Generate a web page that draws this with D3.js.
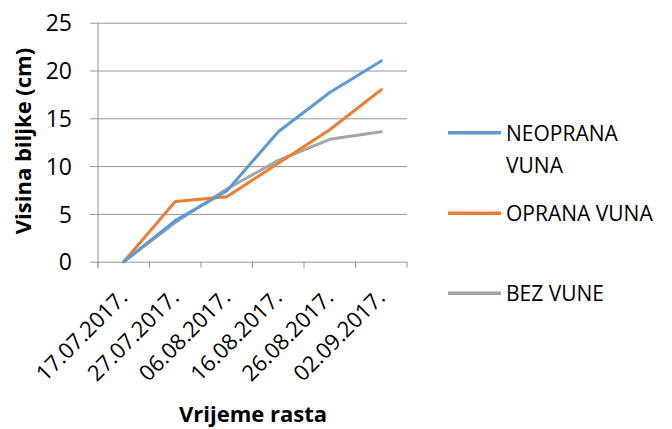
<!DOCTYPE html>
<html>
<head>
<meta charset="utf-8">
<script src="https://cdn.jsdelivr.net/npm/d3@7"></script>
<style>
  body { margin: 0; background: #fff; }
  text { font-family: "Open Sans", sans-serif; fill: #000; }
</style>
</head>
<body>
<svg id="chart" width="672" height="429"></svg>
<script>
// data
let dates = ['17.07.2017.', '27.07.2017.', '06.08.2017.', '16.08.2017.', '26.08.2017.', '02.09.2017.']
let neoprana = [0, 4.3, 7.4, 13.6, 17.7, 21.0]
let oprana = [0, 6.3, 6.8, 10.3, 13.8, 18.0]
let bezVune = [0, 4.1, 7.6, 10.6, 12.8, 13.6]
let yTicks = [0, 5, 10, 15, 20, 25]
let seriesNames = ['NEOPRANA VUNA', 'OPRANA VUNA', 'BEZ VUNE']
let colors = ['#5b9bd5', '#ed7d31', '#a5a5a5']

let svg = d3.select('#chart')
let plotLeft = 98, plotRight = 407, plotTop = 22.7, plotBottom = 261.7

let x = d3.scaleBand().domain(dates).range([plotLeft, plotRight])
let y = d3.scaleLinear().domain([0, 25]).range([plotBottom, plotTop])

// horizontal gridlines + y labels
let yAxis = svg.append('g')
  .attr('transform', `translate(${plotRight},0)`)
  .call(d3.axisLeft(y).tickValues(yTicks).tickSize(plotRight - 90).tickPadding(18))
yAxis.select('.domain').remove()
yAxis.selectAll('line').attr('stroke', '#959595').attr('stroke-width', 1)
yAxis.selectAll('text').style('font-size', '23px').attr('dy', '0.36em')

// y axis line
svg.append('line')
  .attr('x1', plotLeft).attr('x2', plotLeft)
  .attr('y1', plotTop).attr('y2', plotBottom + 6)
  .attr('stroke', '#959595')

// x tick marks on category boundaries
let bounds = dates.map(d => x(d)).concat([plotRight])
svg.selectAll('.xtick').data(bounds).enter().append('line')
  .attr('class', 'xtick')
  .attr('x1', d => d).attr('x2', d => d)
  .attr('y1', plotBottom).attr('y2', plotBottom + 6)
  .attr('stroke', '#959595')

// x labels, rotated
svg.selectAll('.xlab').data(dates).enter().append('text')
  .attr('class', 'xlab')
  .attr('text-anchor', 'end')
  .attr('transform', d => `translate(${x(d) + x.bandwidth() / 2 + 5},299) rotate(-45)`)
  .style('font-size', '22px')
  .text(d => d)

// lines
let allSeries = [neoprana, oprana, bezVune]
let line = d3.line()
  .x((v, i) => x(dates[i]) + x.bandwidth() / 2)
  .y(v => y(v))

// gray first so blue/orange sit on top like the original
let order = [2, 1, 0]
order.forEach(k => {
  svg.append('path')
    .datum(allSeries[k])
    .attr('d', line)
    .attr('fill', 'none')
    .attr('stroke', colors[k])
    .attr('stroke-width', 3)
    .attr('stroke-linejoin', 'round')
    .attr('stroke-linecap', 'round')
})

// axis titles
svg.append('text')
  .attr('transform', 'translate(31,141) rotate(-90)')
  .attr('text-anchor', 'middle')
  .style('font-size', '22px')
  .style('font-weight', 'bold')
  .text('Visina biljke (cm)')

svg.append('text')
  .attr('x', 253).attr('y', 422)
  .attr('text-anchor', 'middle')
  .style('font-size', '22px')
  .style('font-weight', 'bold')
  .text('Vrijeme rasta')

// legend
let legendY = [132.7, 213.3, 293.3]
let legendLines = [['NEOPRANA', 'VUNA'], ['OPRANA VUNA'], ['BEZ VUNE']]
seriesNames.forEach((name, i) => {
  svg.append('line')
    .attr('x1', 448).attr('x2', 501)
    .attr('y1', legendY[i]).attr('y2', legendY[i])
    .attr('stroke', colors[i])
    .attr('stroke-width', 3.5)
  let t = svg.append('text')
    .attr('x', 506)
    .attr('y', legendY[i] + 8)
    .style('font-size', '21px')
  legendLines[i].forEach((s, j) => {
    t.append('tspan').attr('x', 506).attr('dy', j == 0 ? 0 : 32).text(s)
  })
})
</script>
</body>
</html>
